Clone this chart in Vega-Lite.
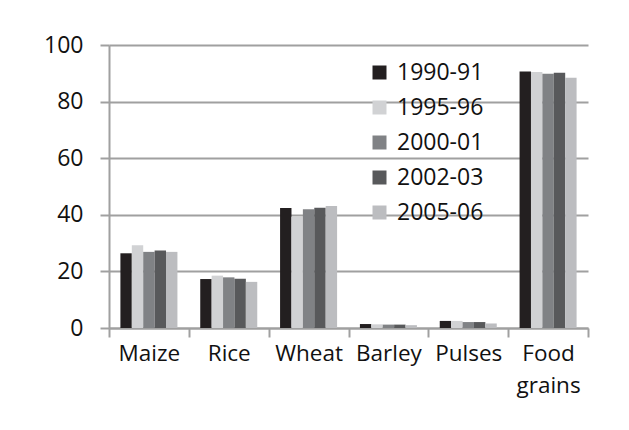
{
  "$schema": "https://vega.github.io/schema/vega-lite/v6.json",
  "width": 479,
  "height": 283,
  "autosize": {"type": "none"},
  "padding": {"left": 109, "top": 45, "right": 41, "bottom": 102},
  "background": "white",
  "config": {"view": {"stroke": null}, "font": "Open Sans"},
  "data": {
    "values": [
      {"crop": "Maize", "year": "1990-91", "value": 26.4},
      {"crop": "Maize", "year": "1995-96", "value": 29.2},
      {"crop": "Maize", "year": "2000-01", "value": 26.9},
      {"crop": "Maize", "year": "2002-03", "value": 27.4},
      {"crop": "Maize", "year": "2005-06", "value": 26.9},
      {"crop": "Rice", "year": "1990-91", "value": 17.3},
      {"crop": "Rice", "year": "1995-96", "value": 18.5},
      {"crop": "Rice", "year": "2000-01", "value": 17.9},
      {"crop": "Rice", "year": "2002-03", "value": 17.4},
      {"crop": "Rice", "year": "2005-06", "value": 16.3},
      {"crop": "Wheat", "year": "1990-91", "value": 42.4},
      {"crop": "Wheat", "year": "1995-96", "value": 39.3},
      {"crop": "Wheat", "year": "2000-01", "value": 42.0},
      {"crop": "Wheat", "year": "2002-03", "value": 42.5},
      {"crop": "Wheat", "year": "2005-06", "value": 43.1},
      {"crop": "Barley", "year": "1990-91", "value": 1.4},
      {"crop": "Barley", "year": "1995-96", "value": 1.3},
      {"crop": "Barley", "year": "2000-01", "value": 1.2},
      {"crop": "Barley", "year": "2002-03", "value": 1.2},
      {"crop": "Barley", "year": "2005-06", "value": 1.0},
      {"crop": "Pulses", "year": "1990-91", "value": 2.5},
      {"crop": "Pulses", "year": "1995-96", "value": 2.5},
      {"crop": "Pulses", "year": "2000-01", "value": 2.1},
      {"crop": "Pulses", "year": "2002-03", "value": 2.1},
      {"crop": "Pulses", "year": "2005-06", "value": 1.6},
      {"crop": "Food grains", "year": "1990-91", "value": 90.6},
      {"crop": "Food grains", "year": "1995-96", "value": 90.5},
      {"crop": "Food grains", "year": "2000-01", "value": 89.8},
      {"crop": "Food grains", "year": "2002-03", "value": 90.2},
      {"crop": "Food grains", "year": "2005-06", "value": 88.4}
    ]
  },
  "mark": {"type": "bar"},
  "encoding": {
    "x": {
      "field": "crop",
      "type": "nominal",
      "sort": ["Maize", "Rice", "Wheat", "Barley", "Pulses", "Food grains"],
      "scale": {"paddingInner": 0, "paddingOuter": 0},
      "axis": {
        "title": null,
        "labelAngle": 0,
        "labelFontSize": 22.5,
        "labelColor": "#111111",
        "labelPadding": 5,
        "labelLineHeight": 32,
        "labelExpr": "datum.label == 'Food grains' ? ['Food', 'grains'] : datum.label",
        "domainColor": "#a0a0a0",
        "domainWidth": 2,
        "tickColor": "#a0a0a0",
        "tickWidth": 2,
        "tickSize": 9,
        "tickBand": "extent",
        "grid": false
      }
    },
    "xOffset": {
      "field": "year",
      "type": "nominal",
      "sort": ["1990-91", "1995-96", "2000-01", "2002-03", "2005-06"],
      "scale": {"paddingInner": 0, "paddingOuter": 1.3}
    },
    "y": {
      "field": "value",
      "type": "quantitative",
      "scale": {"domain": [0, 100], "nice": false},
      "axis": {
        "title": null,
        "values": [0, 20, 40, 60, 80, 100],
        "labelFontSize": 23,
        "labelColor": "#111111",
        "labelPadding": 17,
        "grid": true,
        "gridColor": "#a0a0a0",
        "gridWidth": 2,
        "domainColor": "#a0a0a0",
        "domainWidth": 2,
        "tickColor": "#a0a0a0",
        "tickWidth": 2,
        "tickSize": 9
      }
    },
    "color": {
      "field": "year",
      "type": "nominal",
      "scale": {
        "domain": ["1990-91", "1995-96", "2000-01", "2002-03", "2005-06"],
        "range": ["#231f20", "#d1d2d4", "#808285", "#58595b", "#bcbdc0"]
      },
      "legend": {
        "title": null,
        "orient": "none",
        "legendX": 259,
        "legendY": 16,
        "padding": 0,
        "symbolType": "square",
        "symbolSize": 196,
        "symbolStrokeWidth": 0,
        "labelFontSize": 23,
        "labelColor": "#111111",
        "labelOffset": 6,
        "rowPadding": 11
      }
    }
  }
}
